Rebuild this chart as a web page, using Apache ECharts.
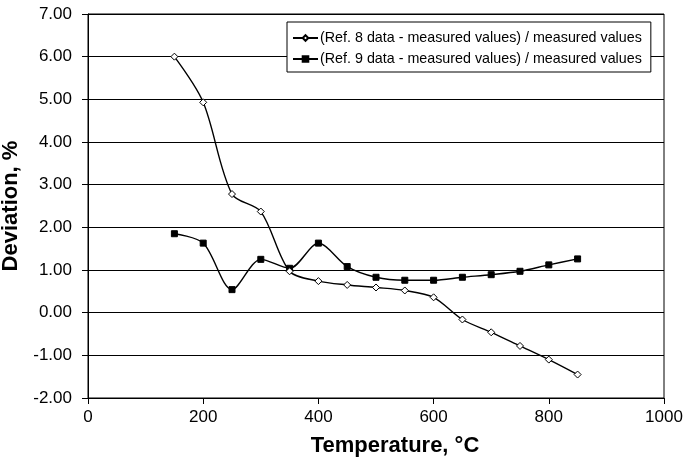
<!DOCTYPE html>
<html>
<head>
<meta charset="utf-8">
<script src="https://cdn.jsdelivr.net/npm/echarts@6/dist/echarts.min.js"></script>
<style>
  html, body { margin: 0; padding: 0; background: #fff; }
  #chart { width: 686px; height: 464px; }
</style>
</head>
<body>
<div id="chart"></div>
<script>
var temps = [150, 200, 250, 300, 350, 400, 450, 500, 550, 600, 650, 700, 750, 800, 850];
var ref8 = [6.00, 4.93, 2.78, 2.37, 0.97, 0.74, 0.65, 0.59, 0.52, 0.36, -0.16, -0.46, -0.78, -1.10, -1.45];
var ref9 = [1.85, 1.63, 0.54, 1.25, 1.04, 1.63, 1.08, 0.83, 0.76, 0.76, 0.83, 0.89, 0.97, 1.12, 1.26];
var names = [
  "(Ref. 8 data - measured values) / measured values",
  "(Ref. 9 data - measured values) / measured values"
];

function pairs(xs, ys) {
  return xs.map(function (x, i) { return [x, ys[i]]; });
}

var chart = echarts.init(document.getElementById("chart"));
var font = "Liberation Sans, Arial, sans-serif";

var option = {
  animation: false,
  backgroundColor: "#fff",
  textStyle: { fontFamily: font },
  grid: {
    left: 88, right: 22, top: 14, bottom: 66,
    outerBoundsMode: "none",
    containLabel: false,
    show: true, borderColor: "#000", borderWidth: 1
  },
  legend: {
    left: 287, top: 22,
    orient: "vertical",
    itemGap: 7,
    itemWidth: 25, itemHeight: 7,
    padding: [9, 9, 6, 5],
    backgroundColor: "#fff",
    borderColor: "#000", borderWidth: 1,
    textStyle: { fontFamily: font, fontSize: 14.3, color: "#000", padding: [0, 0, 0, -3] },
    data: names
  },
  xAxis: {
    type: "value",
    min: 0, max: 1000, interval: 200,
    name: "Temperature, \u00b0C",
    nameLocation: "middle",
    nameGap: 37,
    nameTextStyle: { fontFamily: font, fontSize: 22, fontWeight: "bold", color: "#000", padding: [0, 0, 0, 38] },
    axisLine: { show: true, onZero: false, lineStyle: { color: "#000" } },
    axisTick: { show: true, length: 6, inside: false, lineStyle: { color: "#000" } },
    axisLabel: {
      fontFamily: font, fontSize: 17, color: "#000", margin: 11,
      formatter: function (v) { return String(v); }
    },
    splitLine: { show: false }
  },
  yAxis: {
    type: "value",
    min: -2, max: 7, interval: 1,
    name: "Deviation, %",
    nameLocation: "middle",
    nameGap: 55,
    nameTextStyle: { fontFamily: font, fontSize: 22, fontWeight: "bold", color: "#000" },
    axisLine: { show: true, onZero: false, lineStyle: { color: "#000" } },
    axisTick: { show: true, length: 6, inside: false, lineStyle: { color: "#000" } },
    axisLabel: {
      fontFamily: font, fontSize: 17, color: "#000", margin: 16,
      formatter: function (v) { return v.toFixed(2); }
    },
    splitLine: { show: true, lineStyle: { color: "#000", width: 1 } }
  },
  series: [
    {
      name: names[0],
      type: "line",
      data: pairs(temps, ref8),
      smooth: 0.3,
      symbol: "diamond",
      symbolSize: 7,
      lineStyle: { color: "#000", width: 1.4 },
      itemStyle: { color: "#fff", borderColor: "#000", borderWidth: 1 },
      z: 3
    },
    {
      name: names[1],
      type: "line",
      data: pairs(temps, ref9),
      smooth: 0.3,
      symbol: "rect",
      symbolSize: 6,
      lineStyle: { color: "#000", width: 1.4 },
      itemStyle: { color: "#000", borderColor: "#000", borderWidth: 1 },
      z: 2
    }
  ]
};

option && chart.setOption(option);
</script>
</body>
</html>
